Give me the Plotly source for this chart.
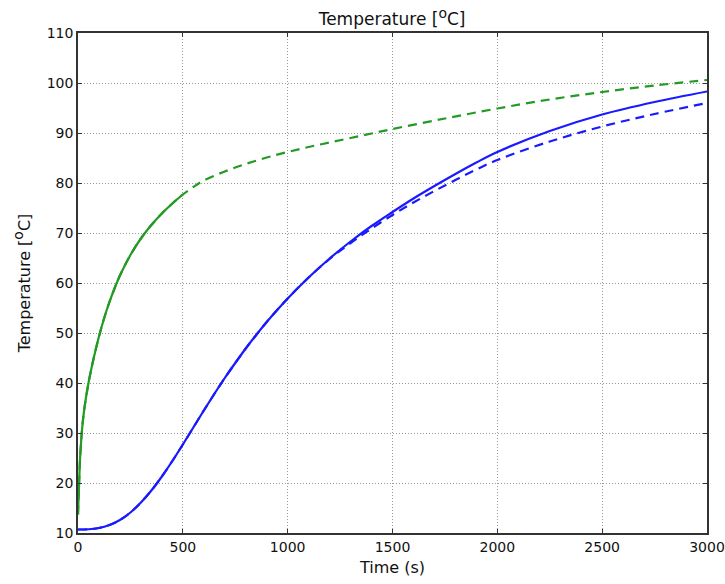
import plotly.graph_objects as go

# Green solid (0-500 s)
g_solid_t = [0, 5, 10, 20, 30, 50, 75, 100, 125, 150, 175, 200, 250, 300, 350, 400, 450, 500]
g_solid_v = [13.7, 19.5, 25.0, 31.0, 34.8, 40.0, 45.0, 49.3, 53.0, 56.2, 59.0, 61.5, 65.6, 68.9, 71.6, 73.9, 75.9, 77.7]

# Green dashed (0-3000 s)
g_dash_t = g_solid_t + [550, 600, 700, 800, 900, 1000, 1100, 1200, 1300, 1400, 1500, 1750, 2000, 2250, 2500, 2750, 3000]
g_dash_v = g_solid_v + [79.2, 80.5, 82.3, 83.8, 85.1, 86.2, 87.2, 88.1, 89.0, 89.9, 90.8, 92.9, 94.9, 96.7, 98.2, 99.5, 100.6]

# Blue solid
b_solid_t = [0, 50, 100, 150, 200, 250, 300, 350, 400, 450, 500, 550, 600, 650, 700, 750, 800, 850, 900, 950,
             1000, 1100, 1200, 1300, 1400, 1500, 1600, 1700, 1800, 1900, 2000, 2250, 2500, 2750, 3000]
b_solid_v = [10.7, 10.75, 11.0, 11.6, 12.6, 14.1, 16.1, 18.5, 21.3, 24.4, 27.7, 31.1, 34.5, 37.8, 41.0, 44.0, 46.9, 49.6, 52.2, 54.6,
             56.9, 61.1, 64.9, 68.3, 71.4, 74.2, 76.9, 79.4, 81.8, 84.1, 86.2, 90.4, 93.7, 96.2, 98.3]

# Blue dashed
b_dash_t = [0, 50, 100, 150, 200, 250, 300, 350, 400, 450, 500, 550, 600, 650, 700, 750, 800, 850, 900, 950,
            1000, 1100, 1200, 1300, 1400, 1500, 1600, 1700, 1800, 1900, 2000, 2250, 2500, 2750, 3000]
b_dash_v = [10.7, 10.75, 11.0, 11.6, 12.6, 14.1, 16.1, 18.5, 21.3, 24.4, 27.7, 31.1, 34.5, 37.8, 41.0, 44.0, 46.9, 49.6, 52.2, 54.6,
            56.9, 61.1, 64.8, 68.0, 70.9, 73.6, 76.1, 78.4, 80.6, 82.7, 84.6, 88.3, 91.3, 93.8, 96.0]

x_ticks = [0, 500, 1000, 1500, 2000, 2500, 3000]
y_ticks = [10, 20, 30, 40, 50, 60, 70, 80, 90, 100, 110]

BLUE = "#1a1aff"
GREEN = "#239a23"
FONT = "DejaVu Sans"
DEG_TITLE = 'Temperature [<sup><span style="font-size:14px">o</span></sup>C]'

fig = go.Figure()
fig.add_trace(go.Scatter(x=g_dash_t, y=g_dash_v, mode="lines", line_shape="spline",
                         line=dict(color=GREEN, width=2.2, dash="9px,6px"), showlegend=False))
fig.add_trace(go.Scatter(x=g_solid_t, y=g_solid_v, mode="lines", line_shape="spline",
                         line=dict(color=GREEN, width=2.2), showlegend=False))
fig.add_trace(go.Scatter(x=b_dash_t, y=b_dash_v, mode="lines", line_shape="spline",
                         line=dict(color=BLUE, width=2.2, dash="9px,6px"), showlegend=False))
fig.add_trace(go.Scatter(x=b_solid_t, y=b_solid_v, mode="lines", line_shape="spline",
                         line=dict(color=BLUE, width=2.2), showlegend=False))

axis_common = dict(
    automargin=False,
    showline=True, linecolor="#333333", linewidth=1.5, mirror="ticks",
    ticks="inside", ticklen=4, tickcolor="#333333",
    showgrid=True, gridcolor="#999999", griddash="1px,2px", gridwidth=1,
    zeroline=False,
    tickfont=dict(family=FONT, size=14, color="#111111"),
)

fig.update_layout(
    width=725, height=584,
    margin=dict(l=78, r=18, t=33, b=51),
    paper_bgcolor="white", plot_bgcolor="white",
    font=dict(family=FONT, color="#111111"),
    title=dict(text=DEG_TITLE, x=0.5408, xanchor="center",
               y=1 - 19 / 584, yanchor="middle", font=dict(family=FONT, size=17)),
    xaxis=dict(range=[0, 3000], tickvals=x_ticks,
               title=dict(text="Time (s)", font=dict(family=FONT, size=16), standoff=8),
               **axis_common),
    yaxis=dict(range=[10, 110], tickvals=y_ticks,
               title=dict(text=DEG_TITLE, font=dict(family=FONT, size=16), standoff=12),
               **axis_common),
)

fig.write_html("out.html")
